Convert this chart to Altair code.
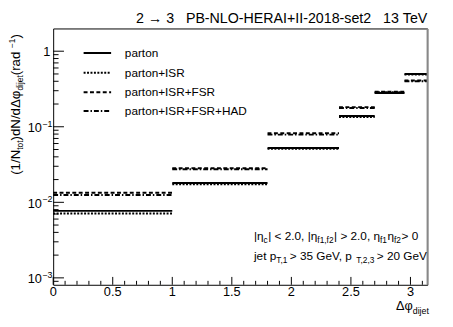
import altair as alt
import numpy as np
import pandas as pd

# ---------------- data ----------------
bin_lo = [0.0, 1.0, 1.8, 2.4, 2.7, 2.95]
bin_hi = [1.0, 1.8, 2.4, 2.7, 2.95, 3.14159265]
series_names = ["parton", "parton+ISR", "parton+ISR+FSR", "parton+ISR+FSR+HAD"]
parton = [0.0077, 0.0180, 0.0523, 0.139, 0.280, 0.50]
parton_isr = [0.0071, 0.0173, 0.0510, 0.135, 0.285, 0.49]
parton_isr_fsr = [0.0134, 0.0282, 0.0823, 0.182, 0.290, 0.41]
parton_isr_fsr_had = [0.0125, 0.0274, 0.0787, 0.177, 0.285, 0.40]
dash_styles = [[1, 0], [2, 1.5], [4, 2.5], [5, 2, 1.5, 2]]

y_decades = [1e-3, 1e-2, 1e-1]
y_decade_sup = ["\u22123", "\u22122", "\u22121"]
y_one = [1.0]
x_major = [0, 0.5, 1, 1.5, 2, 2.5, 3]
x_major_labels = ["0", "0.5", "1", "1.5", "2", "2.5", "3"]

NB = "\u00a0"
title_text = "2 \u2192 3   PB-NLO-HERAI+II-2018-set2   13 TeV".replace(" ", NB)

FONT = "Liberation Sans"
W_PLOT, H_PLOT = 381, 261
Y_MIN, Y_MAX = 8.1e-4, 2.0

xs = alt.Scale(domain=[0, 3.14159265], nice=False, zero=False)
ys = alt.Scale(type="log", domain=[Y_MIN, Y_MAX], nice=False)

rows = []
for name, vals in zip(series_names, [parton, parton_isr, parton_isr_fsr, parton_isr_fsr_had]):
    for lo, hi, v in zip(bin_lo, bin_hi, vals):
        rows.append({"series": name, "lo": lo, "hi": hi, "val": v})
df = pd.DataFrame(rows)

one = pd.DataFrame({"a": [0]})

hist = alt.Chart(df).mark_rule(color="black", strokeWidth=2, strokeCap="butt").encode(
    x=alt.X("lo:Q", scale=xs, axis=None),
    x2="hi:Q",
    y=alt.Y("val:Q", scale=ys, axis=None),
    strokeDash=alt.StrokeDash("series:N", scale=alt.Scale(domain=series_names, range=dash_styles), legend=None),
)

# ticks
y_minor = [k * 10.0 ** e for e in range(-4, 1) for k in range(2, 10)]
y_minor = [v for v in y_minor if Y_MIN < v < Y_MAX]
x_minor = [round(0.1 * i, 1) for i in range(0, 32)]
x_minor = [v for v in x_minor if v not in x_major]

ymaj = alt.Chart(pd.DataFrame({"v": y_decades + y_one})).mark_rule(color="black", strokeWidth=1).encode(
    y=alt.Y("v:Q", scale=ys, axis=None), x=alt.value(0), x2=alt.value(11))
ymin_ = alt.Chart(pd.DataFrame({"v": y_minor})).mark_rule(color="black", strokeWidth=1).encode(
    y=alt.Y("v:Q", scale=ys, axis=None), x=alt.value(0), x2=alt.value(5.5))
xmaj = alt.Chart(pd.DataFrame({"v": x_major})).mark_rule(color="black", strokeWidth=1).encode(
    x=alt.X("v:Q", scale=xs, axis=None), y=alt.value(H_PLOT), y2=alt.value(H_PLOT - 8))
xmin_ = alt.Chart(pd.DataFrame({"v": x_minor})).mark_rule(color="black", strokeWidth=1).encode(
    x=alt.X("v:Q", scale=xs, axis=None), y=alt.value(H_PLOT), y2=alt.value(H_PLOT - 4))

# tick labels
ylab_df = pd.DataFrame({"v": y_decades, "base": ["10"] * 3, "sup": y_decade_sup})
ylab = alt.Chart(ylab_df).mark_text(align="right", baseline="middle", fontSize=13, font=FONT, dy=1.5).encode(
    y=alt.Y("v:Q", scale=ys, axis=None), x=alt.value(-11.5), text="base:N")
ysup = alt.Chart(ylab_df).mark_text(align="left", baseline="middle", fontSize=9, font=FONT, dy=-3).encode(
    y=alt.Y("v:Q", scale=ys, axis=None), x=alt.value(-11), text="sup:N")
yone = alt.Chart(pd.DataFrame({"v": y_one, "t": ["1"]})).mark_text(align="right", baseline="middle", fontSize=13, font=FONT, dy=0.5).encode(
    y=alt.Y("v:Q", scale=ys, axis=None), x=alt.value(-3), text="t:N")
xlab = alt.Chart(pd.DataFrame({"v": x_major, "t": x_major_labels})).mark_text(align="center", baseline="alphabetic", fontSize=13, font=FONT).encode(
    x=alt.X("v:Q", scale=xs, axis=None), y=alt.value(H_PLOT + 11), text="t:N")

right_edge = alt.Chart(one).mark_rule(color="#888888", strokeWidth=1.5).encode(
    x=alt.value(W_PLOT), y=alt.value(0), y2=alt.value(H_PLOT))

layers = [hist, ymaj, ymin_, xmaj, xmin_, ylab, ysup, yone, xlab, right_edge]

# width table (Helvetica / Liberation Sans metrics, per 1000)
WID = {" ": 278, NB: 278, "(": 333, ")": 333, "/": 278, ".": 278, ",": 278, "|": 260, "<": 584, ">": 584,
       "+": 584, "\u2212": 584, "-": 333, "a": 556, "c": 500, "d": 556, "e": 556, "f": 278, "i": 222,
       "j": 222, "n": 556, "o": 556, "p": 556, "r": 333, "t": 278, "A": 667, "D": 722, "E": 667,
       "F": 611, "G": 778, "H": 722, "I": 278, "N": 722, "R": 722, "S": 667, "T": 611, "V": 667,
       "\u0394": 668, "\u03c6": 650, "\u03b7": 556}


def tw(s, size):
    return sum(WID.get(ch, 556) for ch in s) / 1000.0 * size


def text_run(pieces, x0, y0, main=12, sub=8.5, sub_dy=3.0, sup_dy=-5.0, sub_gap=0.0):
    out = []
    x = x0
    for txt, kind in pieces:
        txt = txt.replace(" ", NB)
        size = main if kind == "m" else sub
        dy = 0 if kind == "m" else (sub_dy if kind == "s" else sup_dy)
        out.append(alt.Chart(one).mark_text(text=txt, align="left", baseline="alphabetic", fontSize=size,
                                             font=FONT, color="black").encode(
            x=alt.value(x), y=alt.value(y0 + dy)))
        x += tw(txt, size) + (sub_gap if kind != "m" else 0)
    return out


def rot_run(pieces, xb, y0, main=14, sub=9.5, sub_dx=3.5, sup_dx=-4.5):
    out = []
    y = y0
    for txt, kind in pieces:
        txt = txt.replace(" ", NB)
        size = main if kind == "m" else sub
        dx = 0 if kind == "m" else (sub_dx if kind == "s" else sup_dx)
        out.append(alt.Chart(one).mark_text(text=txt, align="left", baseline="alphabetic", fontSize=size,
                                             font=FONT, angle=270, color="black").encode(
            x=alt.value(xb + dx), y=alt.value(y)))
        y -= tw(txt, size)
    return out


# title
layers.append(alt.Chart(one).mark_text(text=title_text, align="right", baseline="alphabetic", fontSize=14.5,
                                       font=FONT, color="black").encode(x=alt.value(W_PLOT), y=alt.value(-6)))

# legend
leg_y = [25, 45, 65, 84]
for name, dsh, yy in zip(series_names, dash_styles, leg_y):
    layers.append(alt.Chart(one).mark_rule(color="black", strokeWidth=2, strokeDash=dsh, strokeCap="butt").encode(
        x=alt.value(31), x2=alt.value(59), y=alt.value(yy)))
    layers.append(alt.Chart(one).mark_text(text=name, align="left", baseline="middle", fontSize=12,
                                           font=FONT, color="black").encode(x=alt.value(73), y=alt.value(yy)))

# annotations
line1 = [("|\u03b7", "m"), ("c", "s"), ("| < 2.0, |\u03b7", "m"), ("f1,f2", "s"), ("| > 2.0, \u03b7", "m"),
         ("f1", "s"), ("\u03b7", "m"), ("f2", "s"), (" > 0", "m")]
line2 = [("jet p", "m"), ("T,1", "s"), (" > 35 GeV, p", "m"), ("T,2,3", "s"), (" > 20 GeV", "m")]
layers += text_run(line1, 204.5, 215, sub_gap=0.5)
layers += text_run(line2, 204.5, 236, sub_gap=1.5)

# x title
layers += text_run([("\u0394\u03c6", "m"), ("dijet", "s")], 349, 287, main=13, sub=9, sub_dy=4)

# y title
ytitle = [("(1/N", "m"), ("tot", "s"), (")dN/d\u0394\u03c6", "m"), ("dijet", "s"), (" (rad", "m"),
          ("\u22121", "p"), (")", "m")]
layers += rot_run(ytitle, -34, 149, main=13.5, sub=8.5)

chart = alt.layer(*layers).properties(
    width=W_PLOT, height=H_PLOT,
    padding={"left": 46, "top": 18, "right": 18, "bottom": 32},
    autosize=alt.AutoSizeParams(type="none"),
).configure_view(stroke="black", strokeWidth=1)

chart.save("out.html", embed_options={"renderer": "svg", "actions": False})
